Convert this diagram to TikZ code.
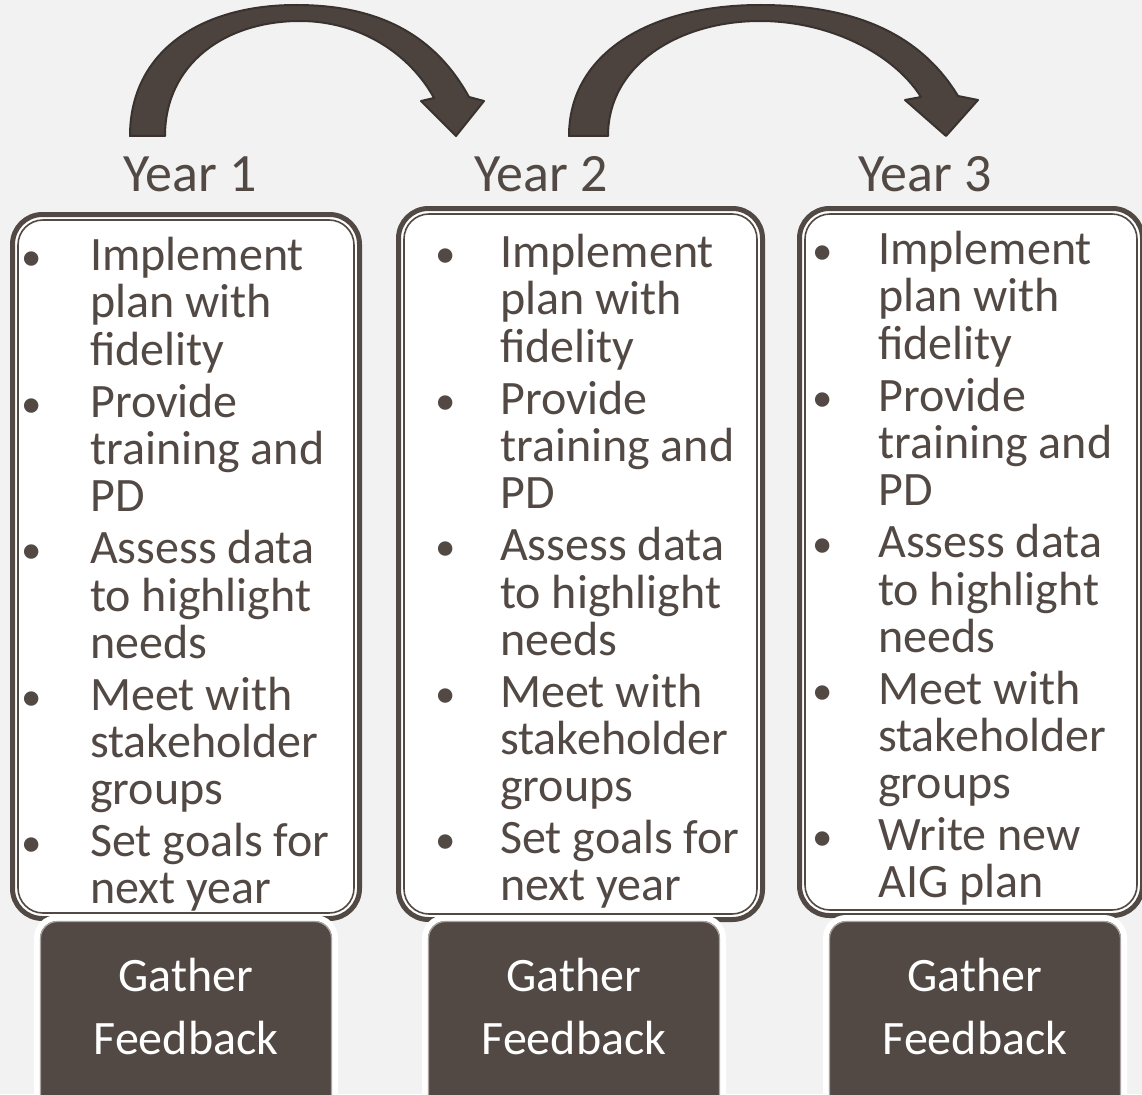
\documentclass[tikz,border=0pt]{standalone}
\usepackage{fontspec}
\setmainfont{Carlito}
\usetikzlibrary{positioning, calc}
\definecolor{ink}{RGB}{82, 73, 68}
\definecolor{paper}{RGB}{242, 242, 242}
\definecolor{arrowfill}{RGB}{76, 67, 63}
\definecolor{arrowedge}{RGB}{58, 50, 47}
\newcommand{\bul}{\makebox[0pt]{\scalebox{0.85}{\textbullet}}}

\begin{document}
\begin{tikzpicture}[x=1pt, y=-1pt,
    yearbox/.style={draw=ink, line width=5pt, fill=white, rounded corners=30pt, outer sep=0pt, inner sep=0pt},
    rimline/.style={draw=ink, line width=1.6pt, rounded corners=25pt},
    fbbox/.style={draw=white, line width=6pt, fill=ink, rounded corners=20pt, outer sep=0pt, inner sep=0pt, minimum width=298pt, minimum height=200pt, anchor=north},
    fbrim/.style={draw=ink!50, line width=1.2pt, rounded corners=17pt},
    yearlabel/.style={text=ink, font=\fontsize{54}{60}\selectfont, anchor=base, inner sep=0pt},
    itemlist/.style={text=ink, font=\fontsize{48}{47}\selectfont, anchor=north west, inner sep=0pt},
    fbtext/.style={text=white, font=\fontsize{48}{63}\selectfont, align=center, inner sep=0pt},
    bigarrow/.style={fill=arrowfill, draw=arrowedge, line width=2pt, line join=round}]
    \path[use as bounding box, fill=paper] (0,0) rectangle (1142,1094);

    % Curved arrows
    \draw[bigarrow] (130,136) -- (165,136)
        .. controls (165,64) and (225,21) .. (300,21)
        .. controls (360,21) and (410,54) .. (434,98)
        -- (421,101) -- (456,136) -- (484,101) -- (469,97)
        .. controls (432,30) and (372,5) .. (296,5)
        .. controls (200,5) and (130,52) .. (130,136) -- cycle;
    \draw[bigarrow] (569,136) -- (608,136)
        .. controls (608,64) and (680,21) .. (760,21)
        .. controls (830,21) and (894,54) .. (921,97)
        -- (905,100) -- (946,136) -- (978,100) -- (958,96)
        .. controls (918,30) and (848,5) .. (760,5)
        .. controls (652,5) and (569,52) .. (569,136) -- cycle;

    % Year labels
    \node[yearlabel] (y1) at (190,192) {Year 1};
    \node[yearlabel] (y2) at (541,192) {Year 2};
    \node[yearlabel] (y3) at (925,192) {Year 3};

    % Year boxes
    \node[yearbox, minimum width=347pt, minimum height=704pt] (box1) at (186,566.5) {};
    \node[yearbox, minimum width=364pt, minimum height=711pt] (box2) at (580.5,564) {};
    \node[yearbox, minimum width=343pt, minimum height=707pt] (box3) at (971,562) {};
    \draw[rimline] ([shift={(5.5,5.5)}]box1.north west) rectangle ([shift={(-5.5,-5.5)}]box1.south east);
    \draw[rimline] ([shift={(5.5,5.5)}]box2.north west) rectangle ([shift={(-5.5,-5.5)}]box2.south east);
    \draw[rimline] ([shift={(5.5,5.5)}]box3.north west) rectangle ([shift={(-5.5,-5.5)}]box3.south east);

    % Tasks
    \node[itemlist] (list1) at (31,237) {\begin{tabular}{@{}p{59pt}@{}l@{}}
        \bul & Implement\\ & plan with\\ & fidelity\\[4.5pt]
        \bul & Provide\\ & training and\\ & PD\\[4.5pt]
        \bul & Assess data\\ & to highlight\\ & needs\\[4.5pt]
        \bul & Meet with\\ & stakeholder\\ & groups\\[4.5pt]
        \bul & Set goals for\\ & next year
    \end{tabular}};
    \node[itemlist] (list2) at (445,234) {\begin{tabular}{@{}p{55pt}@{}l@{}}
        \bul & Implement\\ & plan with\\ & fidelity\\[4.5pt]
        \bul & Provide\\ & training and\\ & PD\\[4.5pt]
        \bul & Assess data\\ & to highlight\\ & needs\\[4.5pt]
        \bul & Meet with\\ & stakeholder\\ & groups\\[4.5pt]
        \bul & Set goals for\\ & next year
    \end{tabular}};
    \node[itemlist] (list3) at (822,231) {\begin{tabular}{@{}p{56pt}@{}l@{}}
        \bul & Implement\\ & plan with\\ & fidelity\\[4.5pt]
        \bul & Provide\\ & training and\\ & PD\\[4.5pt]
        \bul & Assess data\\ & to highlight\\ & needs\\[4.5pt]
        \bul & Meet with\\ & stakeholder\\ & groups\\[4.5pt]
        \bul & Write new\\ & AIG plan
    \end{tabular}};

    % Feedback boxes
    \node[fbbox] (fb1) at (186,918) {};
    \node[fbbox] (fb2) at (574,918) {};
    \node[fbbox] (fb3) at (975,918) {};
    \draw[fbrim] ([shift={(3.5,3.5)}]fb1.north west) rectangle ([shift={(-3.5,-3.5)}]fb1.south east);
    \draw[fbrim] ([shift={(3.5,3.5)}]fb2.north west) rectangle ([shift={(-3.5,-3.5)}]fb2.south east);
    \draw[fbrim] ([shift={(3.5,3.5)}]fb3.north west) rectangle ([shift={(-3.5,-3.5)}]fb3.south east);
    \node[fbtext] (fbt1) at (186,1006) {Gather\\Feedback};
    \node[fbtext] (fbt2) at (574,1006) {Gather\\Feedback};
    \node[fbtext] (fbt3) at (975,1006) {Gather\\Feedback};
\end{tikzpicture}
\end{document}
